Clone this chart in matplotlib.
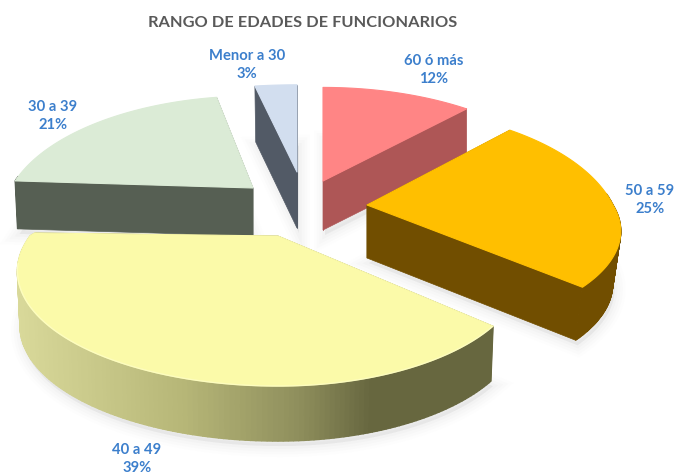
import numpy as np
import matplotlib
matplotlib.use("Agg")
import matplotlib.pyplot as plt
from matplotlib.colors import to_rgb

categories = ["60 ó más", "50 a 59", "40 a 49", "30 a 39", "Menor a 30"]
values = [12, 25, 39, 21, 3]
title = "RANGO DE EDADES DE FUNCIONARIOS"

top_colors = ["#FF8585", "#FFBF00", "#FBFAA9", "#DBEBD6", "#D2DEEF"]
wall_colors = ["#AE5656", "#714E00", "#67673F", "#565F53", "#525A66"]

# apex x, apex y, rx left, rx right, ry back, ry front, perspective, depth, bottom x scale
geometry = [
    (323, 182, 248, 248, 117, 117, .25, 49, 1.00),
    (367, 206, 246, 246, 121, 100, .245, 53, .968),
    (278, 237, 248, 233, 50, 104, .307, 55, .99),
    (253, 189, 242, 240, 115, 115, .25, 48, .99),
    (297, 173, 280, 280, 109, 109, .25, 56, .98),
]
label_xy = [(434, 70), (650, 200), (137, 459), (53, 116), (247, 65)]
draw_order = [3, 4, 0, 1, 2]

wall_stops_x = [16, 180, 300, 370, 493]
wall_stops_c = ["#D9D99A", "#B7B778", "#8E8E5C", "#67673F", "#67673F"]

plt.rcParams["font.family"] = ["Lato", "DejaVu Sans"]
fig = plt.figure(figsize=(6.78, 4.77), dpi=100, facecolor="white")
ax = fig.add_axes([0, 0, 1, 1])
ax.set_xlim(0, 678)
ax.set_ylim(477, 0)
ax.axis("off")


def project(theta, g):
    ax_, ay_, rxl, rxr, ryb, ryf, k, _, _ = g
    u, v = np.sin(theta), np.cos(theta)
    w = 1 + k * v
    rx = np.where(u < 0, rxl, rxr)
    ry = np.where(v > 0, ryb, ryf)
    return ax_ + rx * u / w, ay_ - ry * v / w


def lower(x, y, g):
    return g[0] + (x - g[0]) * g[8], y + g[7]


edges = 2 * np.pi * np.cumsum([0] + values) / sum(values)
wall_rgb = np.array([to_rgb(c) for c in wall_stops_c])

for i in draw_order:
    g = geometry[i]
    th = np.linspace(edges[i], edges[i + 1], 160)
    xt, yt = project(th, g)
    xb, yb = lower(xt, yt, g)
    apex_b = lower(g[0], g[1], g)
    outline_x = np.r_[apex_b[0], xb]
    outline_y = np.r_[apex_b[1], yb]
    # soft shadow
    for lw, a in [(16, .012), (12, .018), (8, .025), (4, .03)]:
        ax.fill(outline_x + 2, outline_y + 5, facecolor="#808080", edgecolor="#808080",
                lw=lw, alpha=a, zorder=1 + i * 0.01)
    z = 2 + draw_order.index(i)
    # cut faces
    for t in (edges[i], edges[i + 1]):
        px, py = project(np.array(t), g)
        qx, qy = lower(px, py, g)
        ax.fill([g[0], px, qx, apex_b[0]], [g[1], py, qy, apex_b[1]],
                facecolor=wall_colors[i], edgecolor=wall_colors[i], lw=.5, zorder=z)
    # outer wall, only on the part of the rim that faces the viewer
    for j in range(len(th) - 1):
        if np.cos(th[j]) > 0.1:
            continue
        mx = (xt[j] + xt[j + 1]) / 2
        if i == 2:
            col = [np.interp(mx, wall_stops_x, wall_rgb[:, c]) for c in range(3)]
        else:
            col = wall_colors[i]
        ax.fill([xt[j], xt[j + 1], xb[j + 1], xb[j]], [yt[j], yt[j + 1], yb[j + 1], yb[j]],
                facecolor=col, edgecolor=col, lw=1.0, zorder=z)
    # top face
    ax.fill(np.r_[g[0], xt], np.r_[g[1], yt], facecolor=top_colors[i],
            edgecolor=top_colors[i], lw=.8, zorder=z + .1, joinstyle="round")
    if i == 2:
        ax.plot(xt[:-20], yt[:-20], color="#FFFFC8", lw=1.0, alpha=.7, zorder=z + .2)

for i, (x, y) in enumerate(label_xy):
    ax.text(x, y, f"{categories[i]}\n{values[i]}%", ha="center", va="center",
            color="#3C7FCC", fontsize=10.6, fontweight="bold", linespacing=1.42, zorder=20)

ax.text(302.5, 23, title, ha="center", va="center", color="#595959",
        fontsize=11.75, fontweight="bold", zorder=20)

fig.savefig("out.png", dpi=100, facecolor="white")
